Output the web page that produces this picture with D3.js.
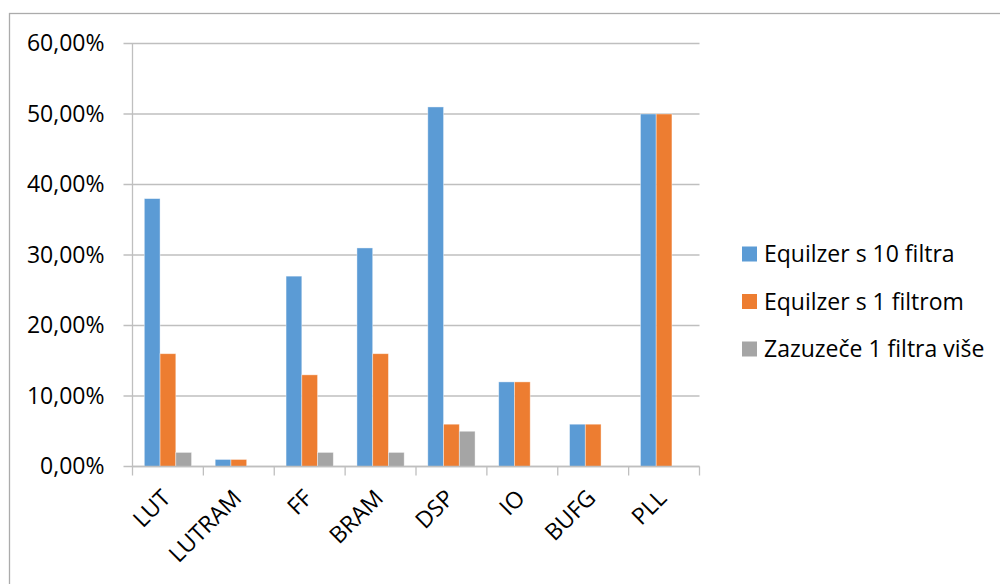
<!DOCTYPE html>
<html>
<head>
<meta charset="utf-8">
<script src="https://cdn.jsdelivr.net/npm/d3@7"></script>
<style>
  html, body { margin: 0; padding: 0; background: #fff; }
  svg { display: block; }
  text { font-family: "Open Sans", "Noto Sans", sans-serif; fill: #000; }
</style>
</head>
<body>
<svg id="chart" width="1000" height="584"></svg>
<script>
// Resource utilisation per FPGA primitive
const categories = ["LUT", "LUTRAM", "FF", "BRAM", "DSP", "IO", "BUFG", "PLL"];
const seriesNames = ["Equilzer s 10 filtra", "Equilzer s 1 filtrom", "Zazuzeče 1 filtra više"];
const tenFilters = [38, 1, 27, 31, 51, 12, 6, 50];
const oneFilter = [16, 1, 13, 16, 6, 12, 6, 50];
const extraFilter = [2, 0, 2, 2, 5, 0, 0, 0];
const yTicks = [0, 10, 20, 30, 40, 50, 60];
const colors = ["#5B9BD5", "#ED7D31", "#A5A5A5"];

const series = [tenFilters, oneFilter, extraFilter];
const fontSize = 23;

const svg = d3.select("#chart");

// outer chart frame
svg.append("rect")
  .attr("x", 9.5).attr("y", 13.5)
  .attr("width", 1000).attr("height", 600)
  .attr("fill", "none").attr("stroke", "#ababab").attr("stroke-width", 1.3);

const plotL = 132.5, plotR = 699.5, plotT = 43.5, plotB = 466.5;

const x = d3.scaleBand().domain(categories).range([plotL, plotR]).paddingInner(0).paddingOuter(0);
const inner = d3.scaleBand().domain(d3.range(series.length))
  .range([0, x.bandwidth()]).paddingInner(0).paddingOuter(0.75);
const y = d3.scaleLinear().domain([0, 60]).range([plotB, plotT]);

const fmt = v => v.toFixed(2).replace(".", ",") + "%";

// y labels
svg.append("g")
  .attr("transform", `translate(${plotL},0)`)
  .call(d3.axisLeft(y).tickValues(yTicks).tickSize(9).tickFormat(fmt).tickPadding(19))
  .call(g => g.select(".domain").remove())
  .call(g => g.selectAll(".tick line").remove())
  .call(g => g.selectAll(".tick text").attr("font-size", fontSize).attr("fill", "#000")
    .attr("font-family", "'Open Sans', 'Noto Sans', sans-serif"));

// horizontal gridlines
svg.append("g").selectAll("line").data(yTicks).join("line")
  .attr("x1", plotL - 9).attr("x2", plotR)
  .attr("y1", d => y(d)).attr("y2", d => y(d))
  .attr("stroke", "#bfbfbf").attr("stroke-width", 1.3);

// vertical axis line
svg.append("line")
  .attr("x1", plotL).attr("x2", plotL).attr("y1", plotT).attr("y2", plotB)
  .attr("stroke", "#bfbfbf").attr("stroke-width", 1.3);

// bars
const groups = svg.append("g").selectAll("g").data(categories).join("g")
  .attr("transform", d => `translate(${x(d)},0)`);
groups.selectAll("rect")
  .data((c, i) => series.map((s, k) => ({ k, v: s[i] })).filter(d => d.v > 0))
  .join("rect")
  .attr("x", d => inner(d.k))
  .attr("width", inner.bandwidth())
  .attr("y", d => y(d.v))
  .attr("height", d => y(0) - y(d.v))
  .attr("fill", d => colors[d.k])
  .attr("stroke", "#ffffff").attr("stroke-opacity", 0.5).attr("stroke-width", 0.8);

// category axis
const gx = svg.append("g")
  .attr("transform", `translate(0,${plotB})`)
  .call(d3.axisBottom(x).tickSize(0).tickPadding(0));
gx.select(".domain").attr("stroke", "#bfbfbf").attr("stroke-width", 1.3)
  .attr("d", `M${plotL},0H${plotR}`);
gx.selectAll(".tick line").remove();
svg.append("g").selectAll("line").data(d3.range(categories.length + 1)).join("line")
  .attr("x1", i => plotL + i * x.step()).attr("x2", i => plotL + i * x.step())
  .attr("y1", plotB).attr("y2", plotB + 9)
  .attr("stroke", "#bfbfbf").attr("stroke-width", 1.3);
gx.selectAll(".tick text")
  .attr("font-size", fontSize).attr("fill", "#000")
  .attr("font-family", "'Open Sans', 'Noto Sans', sans-serif")
  .attr("text-anchor", "end")
  .attr("dy", "0")
  .attr("transform", "translate(4,33) rotate(-45)");

// legend
const legend = svg.append("g").attr("transform", "translate(742,254)");
const items = legend.selectAll("g").data(seriesNames).join("g")
  .attr("transform", (d, i) => `translate(0,${i * 47.5})`);
items.append("rect").attr("x", 0).attr("y", -7.5).attr("width", 15).attr("height", 15)
  .attr("fill", (d, i) => colors[i]);
items.append("text").attr("x", 22).attr("y", 0).attr("dy", "0.35em")
  .attr("font-size", fontSize).text(d => d);
</script>
</body>
</html>
